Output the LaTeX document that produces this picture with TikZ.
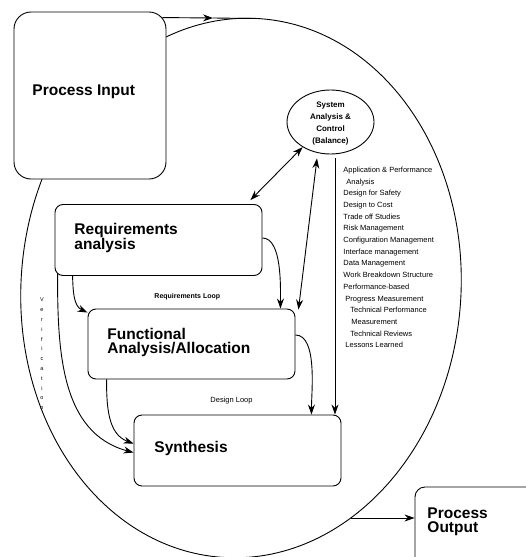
\documentclass[tikz,border=0pt]{standalone}
\usepackage{fontspec}
\setmainfont{Liberation Sans}
\usetikzlibrary{arrows.meta,shapes.geometric,intersections}
\begin{document}
\begin{tikzpicture}[x=1pt,y=1pt,
  line width=0.9pt,
  box/.style={draw, fill=white, rounded corners=#1, inner sep=0pt},
  box/.default=8pt,
  tip/.style={-{Stealth[length=10pt,width=7pt]}},
  dtip/.style={{Stealth[length=10pt,width=7pt]}-{Stealth[length=10pt,width=7pt]}},
  big/.style={font=\bfseries\fontsize{15.5}{13}\selectfont, align=left, inner sep=0pt, anchor=north west},
  small/.style={font=\fontsize{7.5}{11.7}\selectfont, align=left, inner sep=0pt},
]
\useasboundingbox (0,0) rectangle (526,-557);
\clip (0,0) rectangle (526,-557);
\fill[white] (0,0) rectangle (526,-557);

% the surrounding process loop
\draw[name path=cycle, rotate around={-4:(241,-288)}] (241,-288) ellipse [x radius=220pt, y radius=270pt];

% boxes
\node[box=17pt, minimum width=152pt, minimum height=167pt] (pin) at (90,-95.5) {};
\node[box, minimum width=207pt, minimum height=71pt] (req) at (158.5,-240) {};
\node[box, minimum width=207pt, minimum height=70pt] (fun) at (191.5,-344) {};
\node[box, minimum width=207pt, minimum height=71pt] (syn) at (237.5,-450.5) {};
\node[box=10pt, minimum width=140pt, minimum height=100pt] (pout) at (485,-537) {};

% box labels
\node[font=\bfseries\fontsize{15.5}{13}\selectfont, anchor=base west, inner sep=0pt] (pintxt) at (32,-95) {Process Input};
\node[big] (reqtxt) at (74,-222.5) {Requirements\\analysis};
\node[big, font=\bfseries\fontsize{15.5}{14}\selectfont] (funtxt) at (107,-327.7) {Functional\\Analysis/Allocation};
\node[font=\bfseries\fontsize{15.5}{13}\selectfont, anchor=base west, inner sep=0pt] (syntxt) at (154,-452) {Synthesis};
\node[big, font=\bfseries\fontsize{15.5}{14}\selectfont] (pouttxt) at (427,-507.7) {Process\\Output};

% system analysis and control
\node[draw, ellipse, fill=white, minimum width=87pt, minimum height=64pt, inner sep=0pt] (sac) at (330.5,-122) {};
\node[font=\bfseries\fontsize{8}{12}\selectfont, align=center, inner sep=0pt] (satxt) at (330.5,-124) {System\\Analysis \&\\Control\\(Balance)};

% list of control activities
\node[small, anchor=north west] (list) at (343,-166.5) {Application \& Performance\\
\hspace{3pt}Analysis\\
Design for Safety\\
Design to Cost\\
Trade off Studies\\
Risk Management\\
Configuration Management\\
Interface management\\
Data Management\\
Work Breakdown Structure\\
Performance-based\\
\hspace{2pt}Progress Measurement\\
\hspace{7pt}Technical Performance\\
\hspace{8pt}Measurement\\
\hspace{7pt}Technical Reviews\\
\hspace{2pt}Lessons Learned};

% loop labels
\node[small, font=\bfseries\fontsize{7}{8}\selectfont, anchor=base west] (rloop) at (154,-298) {Requirements Loop};
\node[small, anchor=base west] (dloop) at (210,-402) {Design Loop};
\node[font=\fontsize{5.5}{9.8}\selectfont, align=center, inner sep=0pt] (verif) at (42,-354) {V\\e\\r\\i\\f\\i\\c\\a\\t\\i\\o\\n};

% input and output arrows
\coordinate (topmid) at (213,-18);
\coordinate (topend) at (255,-18.5);
\draw[tip] ([xshift=-4pt,yshift=-6pt]pin.north east) -- (topmid);
\draw (topmid) -- (topend);
\path[name path=outline] (300,-518) -- (415,-518);
\path[name intersections={of=cycle and outline, by=outstart}];
\draw[tip] (outstart) -- (outstart -| pout.west);

% control links
\draw[dtip] ([xshift=-12pt,yshift=4pt]req.north east) -- (sac.222);
\draw[dtip] ([xshift=3pt,yshift=-1pt]fun.north east) -- ([shift={(-13.5pt,-4pt)}]sac.south);
\coordinate (vtop) at (335,-158);
\draw[tip] (vtop) -- (vtop |- syn.north);

% iteration loops
\draw[tip] ([yshift=2pt]req.east) to[out=0,in=90,looseness=0.7] ([xshift=-15pt]fun.north east);
\draw[tip] ([yshift=9pt]fun.east) to[out=0,in=90,looseness=0.7] ([xshift=-30pt]syn.north east);
\draw[tip] ([xshift=18pt]req.south west) to[out=-88,in=155] ([yshift=-4pt]fun.north west);
\draw[tip] ([xshift=19pt]fun.south west) to[out=-90,in=160] ([yshift=-29pt]syn.north west);
\draw[tip] ([shift={(3pt,2pt)}]req.south west) to[out=-90,in=165] ([yshift=-38pt]syn.north west);
\end{tikzpicture}
\end{document}
